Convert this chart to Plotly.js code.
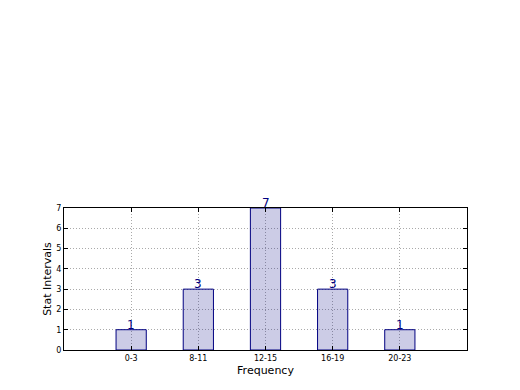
<!DOCTYPE html>
<html><head><meta charset="utf-8">
<script src="https://cdn.plot.ly/plotly-3.0.1.min.js"></script>
<style>html,body{margin:0;padding:0;background:#fff}#chart{width:520px;height:390px}</style>
</head><body><div id="chart"></div>
<script>
var categories = ["0-3", "8-11", "12-15", "16-19", "20-23"];
var counts = [1, 3, 7, 3, 1];

var trace = {
  type: 'bar',
  x: categories,
  y: counts,
  width: 0.45,
  marker: {color: 'rgba(0,0,128,0.2)', line: {color: '#000080', width: 1}},
  cliponaxis: false,
  hoverinfo: 'none'
};

var annotations = categories.map(function (c, i) {
  return {
    x: c, y: counts[i], xref: 'x', yref: 'y',
    text: String(counts[i]), showarrow: false,
    xanchor: 'center', yanchor: 'bottom', yshift: -4,
    font: {family: 'DejaVu Sans', size: 12, color: '#000080'}
  };
});

var layout = {
  width: 520, height: 390,
  margin: {l: 64, r: 53, t: 208, b: 40},
  paper_bgcolor: '#fff', plot_bgcolor: '#fff',
  showlegend: false,
  font: {family: 'DejaVu Sans', color: '#000'},
  annotations: annotations,
  xaxis: {
    type: 'category', range: [-1, 5],
    showline: true, linecolor: '#000', linewidth: 1, mirror: 'ticks',
    ticks: 'inside', ticklen: 4, tickcolor: '#000',
    showgrid: true, gridcolor: '#aaaaaa', griddash: '1px,2px', gridwidth: 1,
    tickfont: {size: 8}, zeroline: false,
    title: {text: 'Frequency', font: {size: 11}, standoff: 4}
  },
  yaxis: {
    range: [0, 7], dtick: 1,
    showline: true, linecolor: '#000', linewidth: 1, mirror: 'ticks',
    ticks: 'inside', ticklen: 4, tickcolor: '#000',
    showgrid: true, gridcolor: '#aaaaaa', griddash: '1px,2px', gridwidth: 1,
    tickfont: {size: 8}, zeroline: false,
    title: {text: 'Stat Intervals', font: {size: 11}, standoff: 2}
  }
};

Plotly.newPlot('chart', [trace], layout, {displayModeBar: false, staticPlot: true});
</script></body></html>
